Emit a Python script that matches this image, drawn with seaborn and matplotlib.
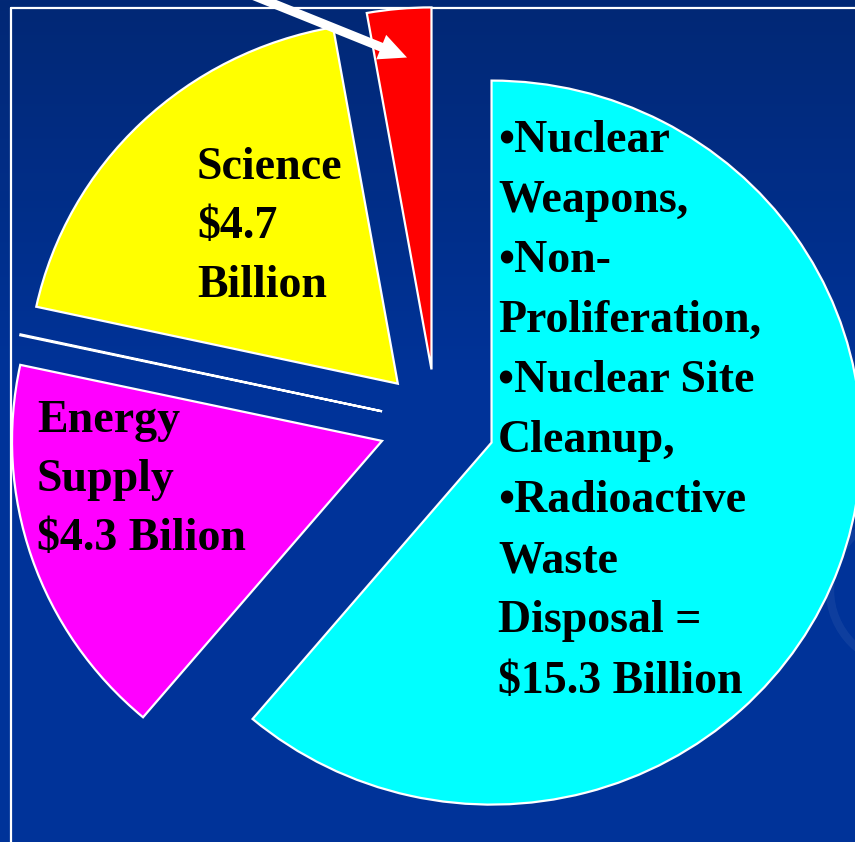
import numpy as np
import matplotlib
matplotlib.use("Agg")
import matplotlib.pyplot as plt
import seaborn as sns
from matplotlib.patches import Circle

# budget slices, counter-clockwise from the top
slice_names = ["Other", "Science", "Gap", "Energy Supply", "Weapons / Cleanup / Waste"]
slice_values = [0.7, 4.7, 0.01, 4.3, 15.3]   # $ billion
slice_colors = ["#FF0000", "#FFFF00", "#003399", "#FF00FF", "#00FFFF"]
explode = [0.148, 0.15, 0.15, 0.155, 0.159]

science_lines = ["Science", "$4.7", "Billion"]
energy_lines = ["Energy", "Supply", "$4.3 Bilion"]
defense_lines = ["\u2022Nuclear", "Weapons,", "\u2022Non-", "Proliferation,",
                 "\u2022Nuclear Site", "Cleanup,", "\u2022Radioactive", "Waste",
                 "Disposal =", "$15.3 Billion"]

sns.set_style("white")
plt.rcParams["font.family"] = ["Liberation Serif", "DejaVu Serif"]

W, H = 855, 842
CX, CY = 436.3, 422.8      # pie centre in pixels
RX, RY = 370.0, 362.0      # pixels per unit radius


def dx(x):
    return (x - CX) / RX


def dy(y):
    return (CY - y) / RY


fig = plt.figure(figsize=(W / 100, H / 100), dpi=100)

# background gradient
bg = fig.add_axes([0, 0, 1, 1])
rows = np.arange(H)
t = np.clip(rows / 380.0, 0, 1)[:, None]
top = np.array([2, 40, 117]) / 255.0
bot = np.array([0, 51, 153]) / 255.0
grad = top * (1 - t) + bot * t
img = np.repeat(grad[:, None, :], 2, axis=1)
bg.imshow(img, aspect="auto", extent=[0, W, H, 0])
bg.set_xlim(0, W)
bg.set_ylim(H, 0)
bg.axis("off")
# slide frame lines
bg.plot([11, W], [7.5, 7.5], color="white", lw=1.6)
bg.plot([11, 11], [7.5, H], color="white", lw=1.6)
# faint decoration at right edge
bg.add_patch(Circle((905, 590), 75, fill=False, ec=(1, 1, 1, 0.06), lw=6))

ax = fig.add_axes([0, 0, 1, 1])
ax.patch.set_alpha(0)
ax.pie(slice_values, colors=slice_colors, startangle=90, counterclock=True,
       explode=explode, radius=1,
       wedgeprops=dict(edgecolor="white", linewidth=1.6))
ax.set_aspect("auto")
ax.set_xlim(dx(0), dx(W))
ax.set_ylim(dy(H), dy(0))
ax.axis("off")

font = dict(fontsize=33, fontweight="bold", color="black", ha="left", va="baseline")


def put_lines(lines, x, y0, step):
    for i, s in enumerate(lines):
        ax.text(dx(x), dy(y0 + i * step), s, **font)


put_lines(science_lines, 197, 179.3, 58.7)
put_lines(energy_lines, 37, 432.3, 58.9)
put_lines(defense_lines, 498, 151.7, 60.1)

# arrow pointing at the small red slice
ax.annotate("", xy=(dx(407), dy(57.5)), xytext=(dx(190), dy(-30)),
            arrowprops=dict(facecolor="white", edgecolor="white", lw=0,
                            width=6.5, headwidth=19, headlength=20, shrink=0),
            annotation_clip=False)

fig.savefig("out.png", dpi=100)
plt.close()
